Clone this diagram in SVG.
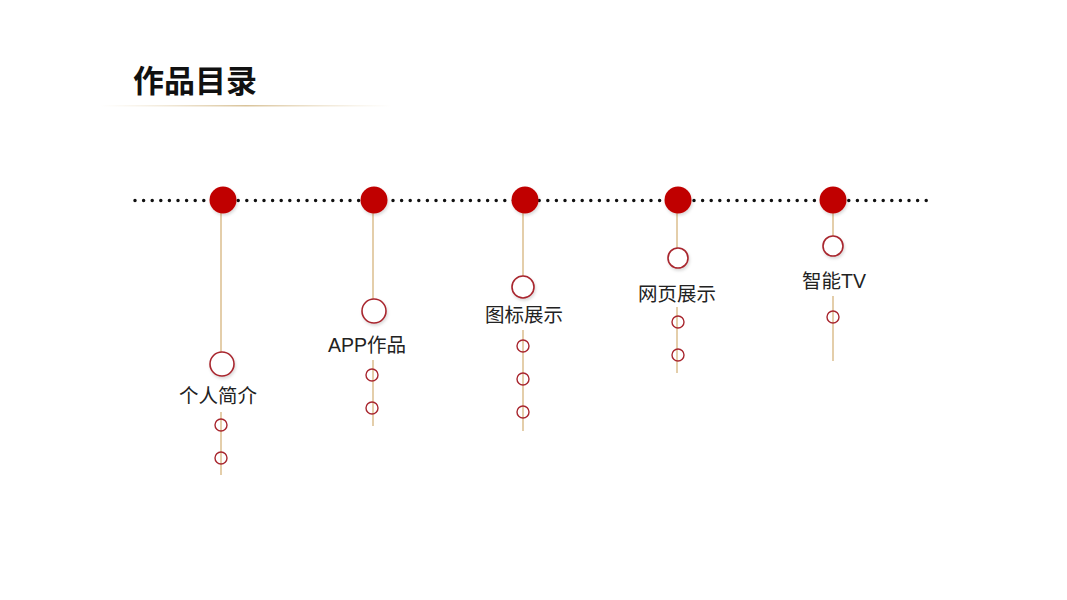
<svg xmlns="http://www.w3.org/2000/svg" width="1067" height="600" viewBox="0 0 1067 600">
<defs>
<linearGradient id="ul" x1="0" x2="1" y1="0" y2="0">
<stop offset="0" stop-color="#e8d8b8" stop-opacity="0"/>
<stop offset="0.5" stop-color="#d9c39a"/>
<stop offset="1" stop-color="#e8d8b8" stop-opacity="0"/>
</linearGradient>
<filter id="sh" x="-50%" y="-50%" width="200%" height="200%">
<feDropShadow dx="1" dy="2" stdDeviation="1.5" flood-color="#000" flood-opacity="0.15"/>
</filter>
</defs>
<style>
.stem{stroke:#dcbf8f;stroke-width:1.5;fill:none}
.big{fill:#c00000;filter:url(#sh)}
.ring{fill:#fff;stroke:#a8262e;stroke-width:1.6;filter:url(#sh)}
.dot{fill:none;stroke:#a8262e;stroke-width:1.4}
.lbl{font-family:"Liberation Sans","Noto Sans CJK SC",sans-serif;font-size:19.5px;fill:#222;text-anchor:middle}
.title{font-family:"Noto Sans CJK SC",sans-serif;font-size:31px;font-weight:bold;fill:#111}
</style>
<rect width="1067" height="600" fill="#fff"/>
<text class="title" x="133" y="92">作品目录</text>
<rect x="100" y="105" width="292" height="1.5" fill="url(#ul)"/>
<g id="connectors">
<line x1="135" y1="200.5" x2="928" y2="200.5" stroke="#111" stroke-width="3.5" stroke-linecap="round" stroke-dasharray="0 8.6"/>
<path class="stem" d="M221 212V375M221 412V475"/>
<path class="stem" d="M373 212V322M373 360V426"/>
<path class="stem" d="M523 212V298M523 330V431"/>
<path class="stem" d="M677 212V268M677 307V373"/>
<path class="stem" d="M833 212V255M833 296V361"/>
</g>
<g id="node1">
<circle class="big" cx="223" cy="200" r="13.5"/>
<circle class="ring" cx="222" cy="364" r="12"/>
<text class="lbl" x="218" y="403">个人简介</text>
<circle class="dot" cx="221" cy="425" r="6"/>
<circle class="dot" cx="221" cy="458" r="6"/>
</g>
<g id="node2">
<circle class="big" cx="374" cy="200" r="13.5"/>
<circle class="ring" cx="374" cy="311" r="12"/>
<text class="lbl" x="367" y="352">APP作品</text>
<circle class="dot" cx="372" cy="375" r="6"/>
<circle class="dot" cx="372" cy="408" r="6"/>
</g>
<g id="node3">
<circle class="big" cx="525" cy="200" r="13.5"/>
<circle class="ring" cx="523" cy="287" r="11"/>
<text class="lbl" x="524" y="322">图标展示</text>
<circle class="dot" cx="523" cy="346" r="6"/>
<circle class="dot" cx="523" cy="379" r="6"/>
<circle class="dot" cx="523" cy="412" r="6"/>
</g>
<g id="node4">
<circle class="big" cx="678" cy="200" r="13.5"/>
<circle class="ring" cx="678" cy="258" r="10"/>
<text class="lbl" x="677" y="301">网页展示</text>
<circle class="dot" cx="678" cy="322" r="6"/>
<circle class="dot" cx="678" cy="355" r="6"/>
</g>
<g id="node5">
<circle class="big" cx="833" cy="200" r="13.5"/>
<circle class="ring" cx="833" cy="246" r="10"/>
<text class="lbl" x="834" y="288">智能TV</text>
<circle class="dot" cx="833" cy="317" r="6"/>
</g>
</svg>
